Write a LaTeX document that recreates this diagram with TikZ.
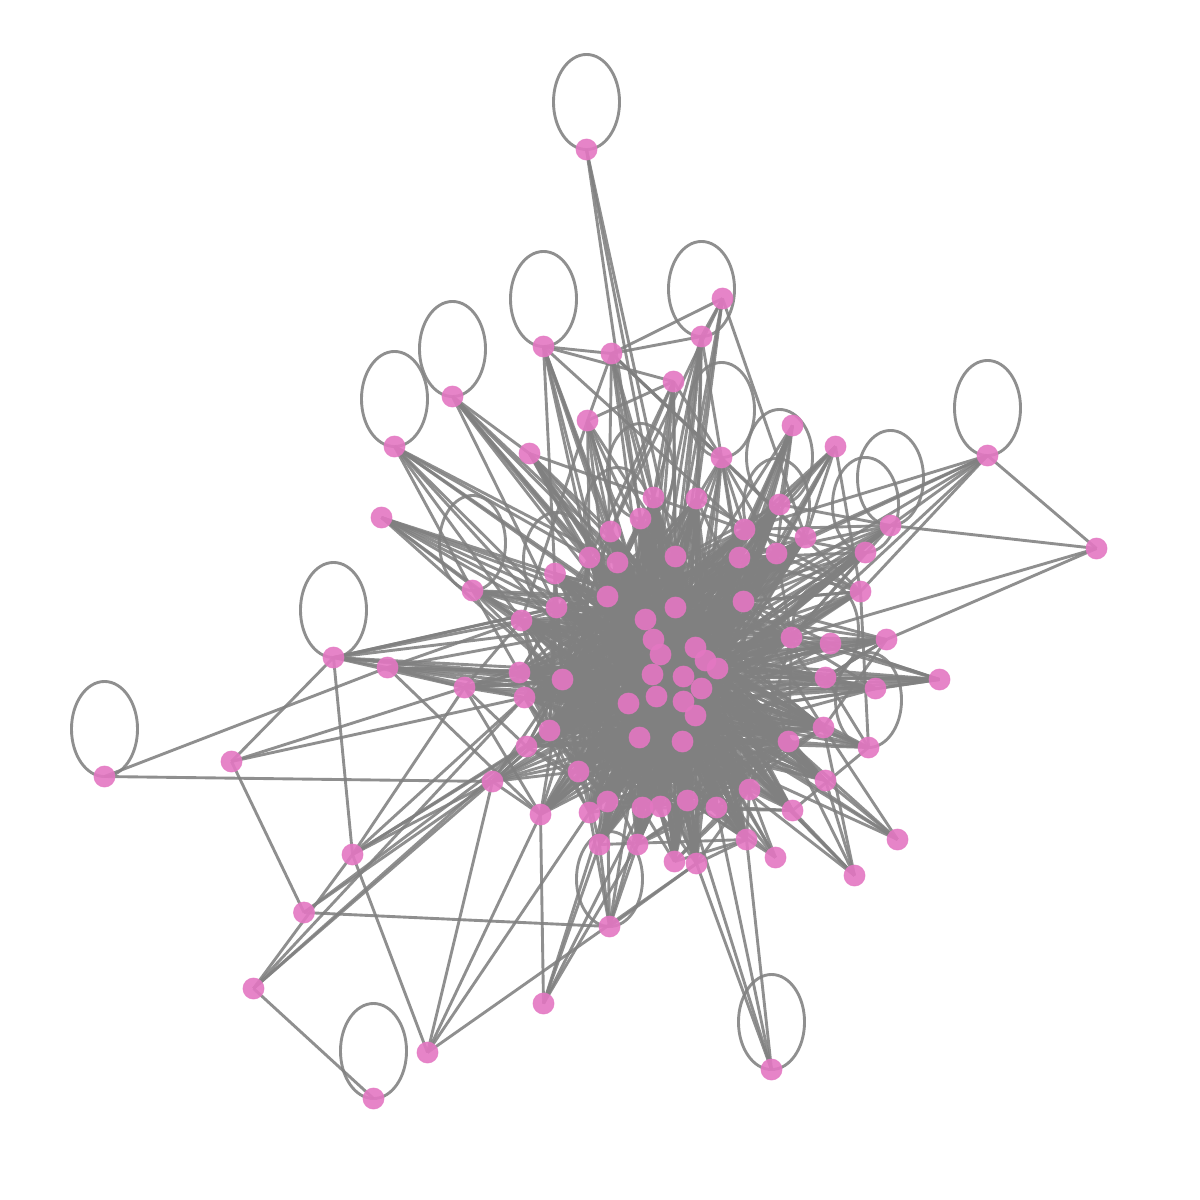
\documentclass[tikz,border=0pt]{standalone}
\usetikzlibrary{calc}
\pgfdeclarelayer{fg}
\pgfsetlayers{main,fg}
\definecolor{edgegray}{HTML}{808080}
\definecolor{vertexpink}{HTML}{E377C2}
\tikzset{
  vertex/.style={circle,fill=vertexpink,fill opacity=0.9,draw=vertexpink,draw opacity=0.7,line width=0.25pt,inner sep=0pt,minimum size=0.21cm},
  edge/.style={draw=edgegray,draw opacity=0.88,line width=0.82pt},
  selfloop/.style={edge}
}
\begin{document}
\begin{tikzpicture}[x=0.01cm,y=-0.01cm]
\useasboundingbox (0,0) rectangle (1200,1200);
\begin{pgfonlayer}{fg}
\foreach \i/\x/\y in {
1/586.5/149.5,2/722.5/298.5,3/701.5/336.5,4/543.5/346.5,5/611.5/353.5,6/673.5/381.5,7/452.5/396.5,8/394.5/446.5,9/587.5/420.5,10/529.5/453.5,
11/721.5/457.5,12/792.5/425.5,13/835.5/446.5,14/987.5/455.5,15/1096.5/548.5,16/381.5/517.5,17/653.5/497.5,18/696.5/498.5,19/779.5/504.5,20/640.5/518.5,
21/610.5/531.5,22/744.5/529.5,23/805.5/537.5,24/890.5/525.5,25/865.5/552.5,26/589.5/557.5,27/617.5/562.5,28/675.5/556.5,29/739.5/557.5,30/776.5/553.5,
31/555/573.5,32/472.5/590.5,33/607.5/596.5,34/675.5/607.5,35/743.5/601.5,36/860.5/591.5,37/556.5/607.5,38/521.5/620.5,39/645.5/619.5,40/653.5/639.5,
41/660.5/654.5,42/695.5/647.5,43/705.5/660.5,44/717.5/668.5,45/791.5/637.5,46/830.5/643.5,47/886.5/639.5,48/333.5/657.5,49/387.5/667.5,50/519.5/672.5,
51/562.5/679.5,52/652.5/674.5,53/683.5/676.5,54/701.5/688.5,55/825.5/677.5,56/875.5/688.5,57/939.5/679.5,58/464.5/687.5,59/524.5/697.5,60/656.5/696.5,
61/683.5/701.5,62/628.5/703.5,63/695.5/715.5,64/549.5/730.5,65/823.5/727.5,66/639.5/737.5,67/682.5/741.5,68/788.5/741.5,69/526.5/746.5,70/868.5/747.5,
71/104.5/776.5,72/231.5/761.5,73/492.5/781.5,74/578.5/771.5,75/825.5/780.5,76/749.5/789.5,77/607.5/801.5,78/642.5/807.5,79/660.5/806.5,80/687.5/800.5,
81/716.5/807.5,82/792.5/810.5,83/540.5/814.5,84/589.5/812.5,85/599.5/844.5,86/637.5/844.5,87/746.5/839.5,88/775.5/857.5,89/897.5/839.5,90/854.5/875.5,
91/674.5/861.5,92/696.5/863.5,93/352.5/854.5,94/304/912.5,95/609.5/926.5,96/253.5/988.5,97/543.5/1003.5,98/427.5/1052.5,99/373.5/1098.5,100/771.5/1069.5}
  {\node[vertex] (n\i) at (\x,\y) {};}
\end{pgfonlayer}
% self loops
\foreach \i in {1,3,4,7,8,11,14,19,20,24,25,27,30,32,37,48,55,70,71,95,99,100}
  {\draw[selfloop] (n\i.center) ++(0,-47.5) ellipse[x radius=0.33cm,y radius=0.475cm];}
% inner ring to the core
\foreach \a in {17,18,20,21,22,26,27,28,29,30,31,35,37,38,45,50,59,64,65,68,69,74,75,76,77,78,79,80,81,82,83,84,85,86,91,92,87,19,23}
  \foreach \b in {33,34,39,40,41,42,43,44,51,52,53,54,60,61,62,63,66,67}
    {\draw[edge] (n\a.center) -- (n\b.center);}
% core to core
\foreach \a/\l in {33/{34,39,40,41,42,43,44,51,52,53,54,60,61,62,63,66,67},34/{39,40,41,42,43,44,51,52,53,54,60,61,62,63,66,67},39/{41,43,51,52,53,54,60,61,62,63,66,67},40/{42,44,51,52,53,54,60,61,62,63,66,67},41/{42,44,51,53,54,60,61,62,63,66,67},42/{51,52,54,60,61,62,63,66,67},43/{51,52,54,60,61,62,63,66,67},44/{51,52,53,60,61,62,63,66,67},51/{52,53,54,60,61,62,63,66,67},52/{54,61,62,63,66,67},53/{60,62,63,66,67},54/{60,62,66,67},60/{63,66,67},61/{62,66,67},62/{63,67},63/{66},66/{67}}
  \foreach \b in \l {\draw[edge] (n\a.center) -- (n\b.center);}
% chords across the ring
\foreach \a/\l in {
17/{74,77,78,80,84,91,35,33,51},18/{64,74,79,81,86,35,33,51},20/{76,79,80,92,33,35},21/{67,76,81,87,68,51,50},22/{50,59,64,69,74,77,51},26/{76,80,68,65,51,50,74},27/{80,82,65,45,51,74},28/{74,77,86,85,91,51,35,33},29/{59,64,69,84,45,51},30/{50,64,74,45,51},
31/{45,65,68,76,51,64},35/{50,59,64,69,74,45,65,68,76},37/{45,65,68,51,64,74},38/{45,65,68,82,51,64,74},45/{50,59,64,69,74,68,76},50/{65,68,76,64,74,77},59/{65,68,76,74,77,84},64/{65,68,76,77,78,84},69/{65,68,77,78},74/{76,80,81,68,65},76/{84,86,91,92},77/{68,81,82},78/{68,82},65/{80,81,86},68/{80,79,86,91}}
  \foreach \b in \l {\draw[edge] (n\a.center) -- (n\b.center);}
% outer vertices
\foreach \a/\l in {
1/{20,17,28},
2/{3,5,21,23,28,34,18},
3/{5,17,18,28,34,40,42,11,39},
4/{5,6,37,21,26,27,33,22,39},
5/{9,11,17,20,23,36,39,33,34},
6/{9,11,17,21,26,28,34,39,40},
7/{10,33,37,39,34,40,27,26},
8/{32,37,33,26,38,39,62,27},
9/{21,26,33,38,39,40,34,28},
10/{33,26,21,22,39,40,34,41,27},
11/{29,28,34,35,42,53,43,18,22,30},
12/{22,29,30,35,34,42,44,54,19,53},
13/{22,23,30,29,35,44,19,36,34},
14/{15,24,22,30,35,36,45,23},
15/{24,45,47},
16/{38,37,33,51,39,40,52,62,31},
24/{22,35,29,45,42,44,54,53,34,43,19,61},
25/{22,35,29,45,42,44,54,53,34,43,61},
36/{35,29,34,42,43,44,45,53,54,61,18,30},
46/{34,42,43,44,53,54,61,63,35,47,57},
47/{34,42,43,44,53,54,61,35,65,45,55},
55/{42,43,44,53,54,61,63,57,67,56,47},
56/{42,43,44,53,54,61,63,57,67,45},
57/{43,44,53,54,61,63,46,45},
70/{54,61,63,67,53,44,65,68,55,36,82},
75/{89,90},
89/{63,67,61,68,65},
90/{63,67,61,68,65,82},
88/{67,63,61,81,76,80},
87/{76,81,80,92,91,100,85},
100/{80,92,81},
95/{94,92,85,86,77,78,66,84},
97/{83,85,77,86,78},
98/{73,83,93,92,84},
99/{96},
96/{93,73,69,59},
94/{72,73,69},
93/{48,58,73,69,64,59},
72/{48,58,59},
71/{49,73},
48/{49,38,50,58,51,39,52,37,33},
49/{50,38,58,51,83,52,60,62,39,59},
58/{83,69,51,52,60,62,39,40,41,50,59,53,38},
73/{83,62,66,60,52,51,61,67,64,74,40},
32/{37,38,51,39,40,52,33,34,62,50}}
  \foreach \b in \l {\draw[edge] (n\a.center) -- (n\b.center);}
\end{tikzpicture}
\end{document}
